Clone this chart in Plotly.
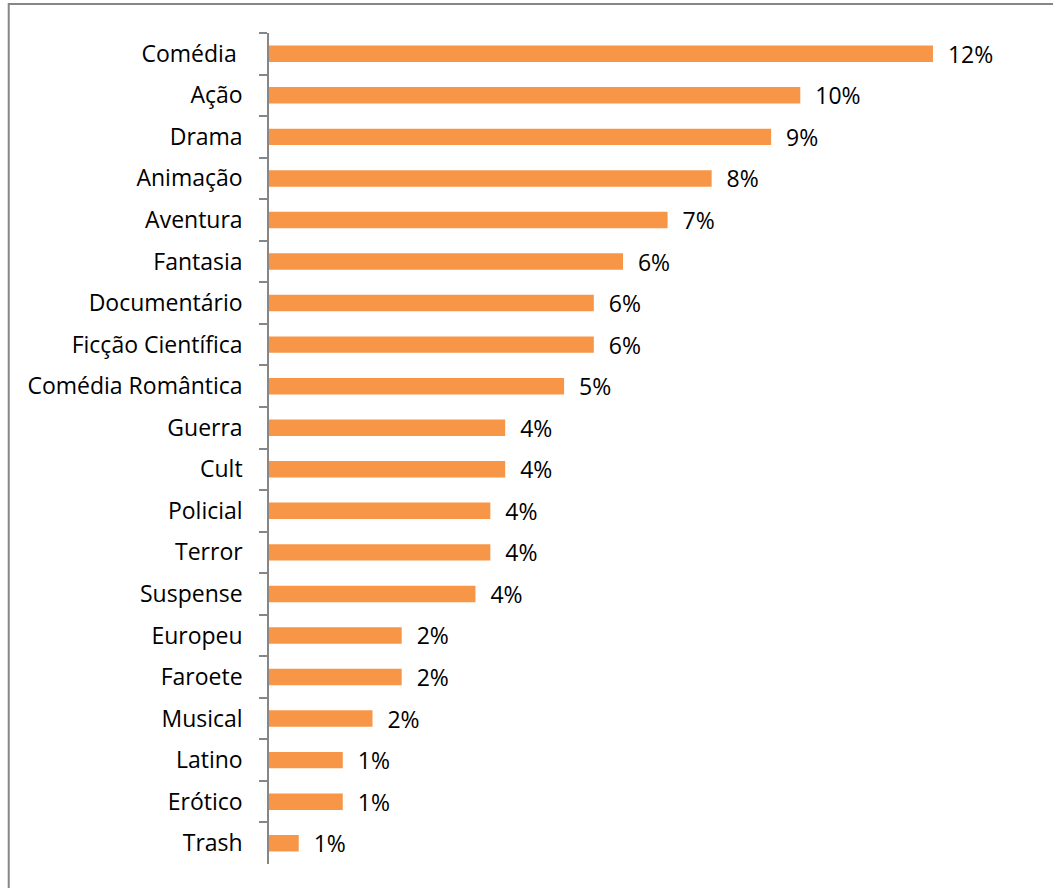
import plotly.graph_objects as go

# Film genre preference shares (percent of answers)
genres = [
    "Comédia\u00a0", "Ação", "Drama", "Animação", "Aventura", "Fantasia",
    "Documentário", "Ficção Científica", "Comédia Romântica", "Guerra",
    "Cult", "Policial", "Terror", "Suspense", "Europeu", "Faroete",
    "Musical", "Latino", "Erótico", "Trash",
]
shares = [
    12.06, 9.65, 9.12, 8.04, 7.24, 6.43,
    5.90, 5.90, 5.36, 4.29,
    4.29, 4.02, 4.02, 3.75, 2.41, 2.41,
    1.88, 1.34, 1.34, 0.54,
]

BAR_COLOR = "#F79646"
AXIS_GRAY = "#868686"
FONT = "Open Sans"
FONT_SIZE = 23

fig = go.Figure(
    go.Bar(
        x=shares,
        y=genres,
        orientation="h",
        marker=dict(color=BAR_COLOR, line=dict(width=0)),
        texttemplate="\u00a0\u00a0%{x:.0f}%",
        textposition="outside",
        constraintext="none",
        cliponaxis=False,
        textfont=dict(family=FONT, size=FONT_SIZE, color="black"),
        hoverinfo="skip",
    )
)

fig.update_layout(
    width=1053,
    height=888,
    margin=dict(l=269, r=0, t=33, b=24),
    paper_bgcolor="white",
    plot_bgcolor="white",
    bargap=0.603,
    showlegend=False,
    font=dict(family=FONT, size=FONT_SIZE, color="black"),
    xaxis=dict(visible=False, range=[0, 14.24]),
    yaxis=dict(
        type="category",
        autorange="reversed",
        showline=True,
        linecolor=AXIS_GRAY,
        linewidth=1.5,
        ticks="outside",
        tickson="boundaries",
        ticklen=8,
        tickwidth=1.5,
        tickcolor=AXIS_GRAY,
        ticklabelstandoff=20,
        showgrid=False,
        tickfont=dict(family=FONT, size=FONT_SIZE, color="black"),
    ),
    shapes=[
        # outer chart frame, running past the right and bottom edges
        dict(
            type="rect", xref="paper", yref="paper",
            x0=-0.332, x1=1.02, y0=-0.06, y1=1.035,
            line=dict(color=AXIS_GRAY, width=2),
            fillcolor="rgba(0,0,0,0)",
            layer="below",
        )
    ],
)

fig.write_html("out.html")
